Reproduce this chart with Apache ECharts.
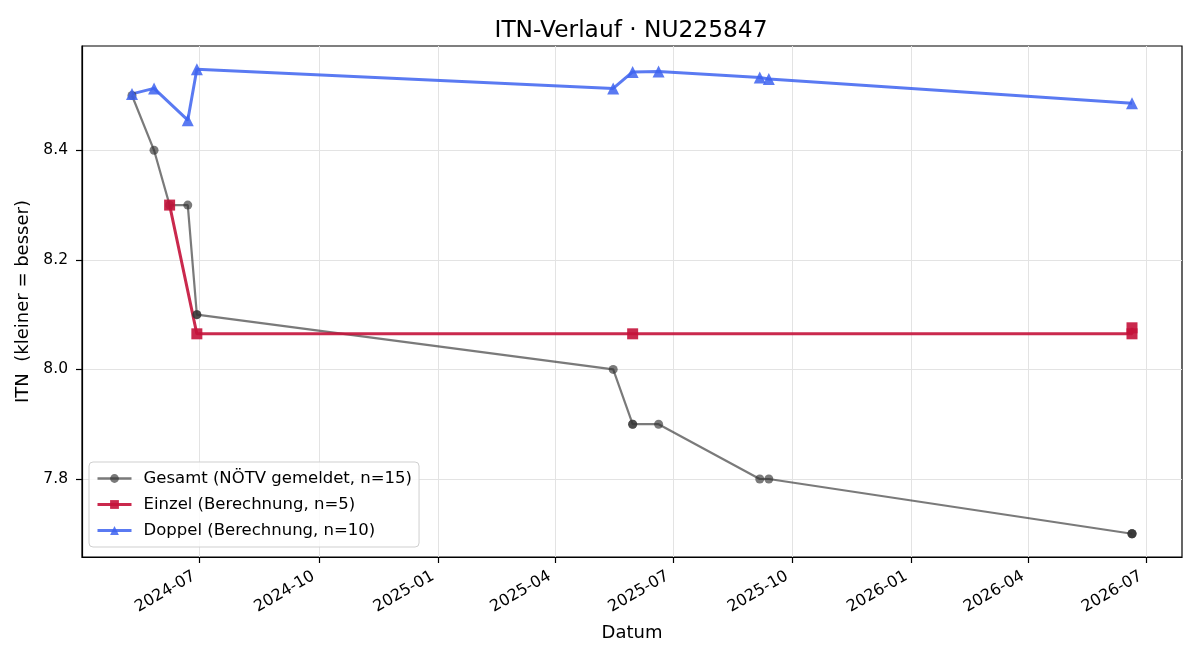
<!DOCTYPE html>
<html>
<head>
    <meta charset="utf-8">
    <script src="https://cdn.jsdelivr.net/npm/echarts@6/dist/echarts.min.js"></script>
    <style>
        html, body { margin: 0; padding: 0; background: #fff; }
        #itnChart { width: 1200px; height: 660px; }
    </style>
</head>
<body>
<div id="itnChart"></div>
<script>
    // Gesamt (reported values, same day appears more than once)
    const gesamtDates = ['2024-05-10', '2024-05-27', '2024-06-08', '2024-06-22', '2024-06-29', '2024-06-29',
        '2025-05-16', '2025-05-31', '2025-05-31', '2025-06-20', '2025-09-06', '2025-09-13',
        '2026-06-20', '2026-06-20', '2026-06-20']
    const gesamtValues = [8.5, 8.4, 8.3, 8.3, 8.1, 8.1, 8.0, 7.9, 7.9, 7.9, 7.8, 7.8, 7.7, 7.7, 7.7]

    const einzelDates = ['2024-06-08', '2024-06-29', '2025-05-31', '2026-06-20', '2026-06-20']
    const einzelValues = [8.300, 8.065, 8.065, 8.065, 8.076]

    const doppelDates = ['2024-05-10', '2024-05-27', '2024-06-22', '2024-06-29', '2025-05-16',
        '2025-05-31', '2025-06-20', '2025-09-06', '2025-09-13', '2026-06-20']
    const doppelValues = [8.503, 8.513, 8.455, 8.548, 8.513, 8.543, 8.544, 8.533, 8.530, 8.486]

    const xTickLabels = ['2024-07', '2024-10', '2025-01', '2025-04', '2025-07', '2025-10', '2026-01', '2026-04', '2026-07']
    const yTickValues = [7.8, 8.0, 8.2, 8.4]

    const font = 'DejaVu Sans'
    const ts = s => Date.parse(s + 'T00:00:00Z')
    const pairs = (dates, values) => dates.map((d, i) => [ts(d), values[i]])

    const xTicks = xTickLabels.map(s => ts(s + '-01'))

    // 5% padding like the original plot
    const allT = gesamtDates.concat(einzelDates, doppelDates).map(ts)
    const allV = gesamtValues.concat(einzelValues, doppelValues)
    const tMin = Math.min(...allT), tMax = Math.max(...allT)
    const vMin = Math.min(...allV), vMax = Math.max(...allV)
    const tPad = (tMax - tMin) * 0.05, vPad = (vMax - vMin) * 0.05

    const myChart = echarts.init(document.getElementById('itnChart'), null, { renderer: 'canvas' })
    let option = {
        animation: false,
        backgroundColor: '#fff',
        textStyle: { fontFamily: font },
        title: {
            text: 'ITN-Verlauf · NU225847',
            left: 626,
            textAlign: 'center',
            top: 14,
            textStyle: { fontFamily: font, fontSize: 23.3, fontWeight: 'normal', color: '#000' }
        },
        grid: {
            left: 82,
            right: 18,
            top: 46,
            bottom: 103,
            show: true,
            borderColor: '#000',
            borderWidth: 1.2
        },
        legend: {
            orient: 'vertical',
            left: 89,
            top: 462,
            itemWidth: 34,
            itemHeight: 11,
            itemGap: 9,
            padding: [8, 7, 8, 7],
            borderColor: '#cfcfcf',
            borderWidth: 1,
            borderRadius: 4,
            backgroundColor: 'rgba(255,255,255,0.8)',
            textStyle: { fontFamily: font, fontSize: 16.5, color: '#000', lineHeight: 17, padding: [0, 0, 0, 7] },
            data: [
                { name: 'Gesamt (NÖTV gemeldet, n=15)', lineStyle: { width: 2.5 } },
                { name: 'Einzel (Berechnung, n=5)', lineStyle: { width: 3 } },
                { name: 'Doppel (Berechnung, n=10)', lineStyle: { width: 3 } }
            ]
        },
        xAxis: {
            // dates as timestamps on a value scale so the quarter ticks can be placed exactly
            type: 'value',
            min: tMin - tPad,
            max: tMax + tPad,
            name: 'Datum',
            nameLocation: 'middle',
            nameGap: 67,
            nameTextStyle: { fontFamily: font, fontSize: 18, color: '#000' },
            axisLine: { show: true, lineStyle: { color: '#000', width: 1.2 } },
            axisTick: { show: true, customValues: xTicks, length: 6, lineStyle: { color: '#000', width: 1.2 } },
            axisLabel: {
                customValues: xTicks,
                rotate: 30,
                margin: 15,
                padding: [0, 6, 0, 0],
                fontFamily: font,
                fontSize: 16,
                color: '#000',
                formatter: v => xTickLabels[xTicks.indexOf(v)] || ''
            },
            splitLine: { show: true, lineStyle: { color: '#e3e3e3', width: 1 } }
        },
        yAxis: {
            type: 'value',
            min: vMin - vPad,
            max: vMax + vPad,
            name: 'ITN  (kleiner = besser)',
            nameLocation: 'middle',
            nameGap: 47,
            nameTextStyle: { fontFamily: font, fontSize: 18, color: '#000' },
            axisLine: { show: true, lineStyle: { color: '#000', width: 1.2 } },
            axisTick: { show: true, customValues: yTickValues, length: 6, lineStyle: { color: '#000', width: 1.2 } },
            axisLabel: {
                customValues: yTickValues,
                margin: 14,
                fontFamily: font,
                fontSize: 15.5,
                color: '#000',
                formatter: v => v.toFixed(1)
            },
            splitLine: { show: true, lineStyle: { color: '#e3e3e3', width: 1 } }
        },
        series: [
            {
                name: 'Gesamt (NÖTV gemeldet, n=15)',
                type: 'line',
                data: pairs(gesamtDates, gesamtValues),
                symbol: 'circle',
                symbolSize: 9,
                showAllSymbol: true,
                lineStyle: { color: '#333', width: 2.2, opacity: 0.65 },
                itemStyle: { color: '#333', opacity: 0.65 }
            },
            {
                name: 'Einzel (Berechnung, n=5)',
                type: 'line',
                data: pairs(einzelDates, einzelValues),
                symbol: 'rect',
                symbolSize: 11,
                showAllSymbol: true,
                lineStyle: { color: '#c4123a', width: 3, opacity: 0.9 },
                itemStyle: { color: '#c4123a', opacity: 0.9 }
            },
            {
                name: 'Doppel (Berechnung, n=10)',
                type: 'line',
                data: pairs(doppelDates, doppelValues),
                symbol: 'triangle',
                symbolSize: 12,
                showAllSymbol: true,
                lineStyle: { color: '#3d63f0', width: 3, opacity: 0.85 },
                itemStyle: { color: '#3d63f0', opacity: 0.85 }
            }
        ]
    }
    myChart.setOption(option)
</script>
</body>
</html>
